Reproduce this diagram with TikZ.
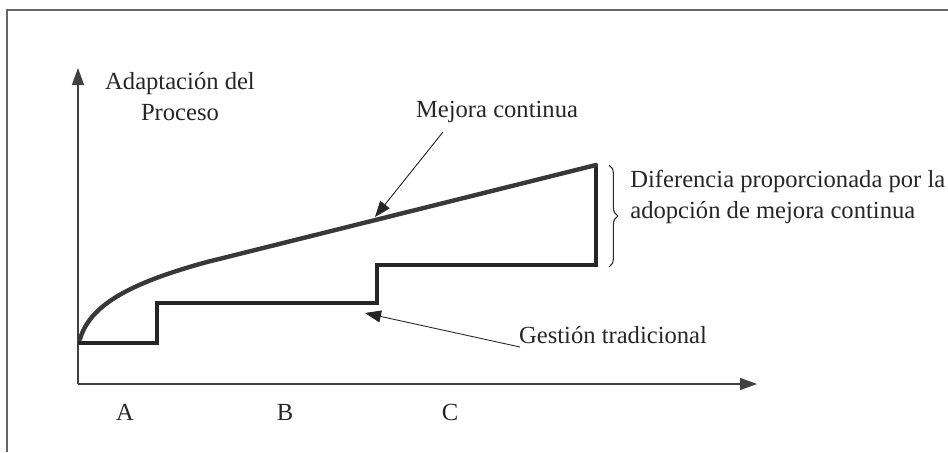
\documentclass[tikz,border=0pt]{standalone}
\usepackage{fontspec}
\setmainfont{Liberation Serif}
\usetikzlibrary{arrows.meta,decorations.pathreplacing}
\tikzset{
  eje/.style={line width=0.8pt, draw=black!75, -{Triangle[length=3.4mm,width=2.4mm]}},
  flecha/.style={line width=0.5pt, draw=black!85, -{Triangle[length=3.2mm,width=2.4mm]}},
  texto/.style={font=\fontsize{14}{17.6}\selectfont, text=black!85, inner sep=0pt},
  escalon/.style={line width=2.8pt, draw=black!85, line join=miter},
  mejora/.style={line width=2.5pt, draw=black!78, line cap=round, line join=round},
}
\begin{document}
\begin{tikzpicture}[x=0.2mm,y=-0.2mm]
\useasboundingbox (0,0) rectangle (948,452);
% marco
\draw[black!60, line width=0.8pt] (7,452) -- (7,10) -- (948,10);
% ejes
\coordinate (o) at (78,384);
\coordinate (ytop) at (78,68);
\coordinate (xend) at (757,384);
\draw[eje] (o) -- (ytop);
\draw[eje] (o) -- (xend);
\node[texto, align=center] (adapt) at (180,97) {Adaptación del\\Proceso};
\node[texto] (a) at (125,412) {A};
\node[texto] (b) at (285,412) {B};
\node[texto] (c) at (450,412) {C};
% gestion tradicional
\draw[escalon] (78,343) -- (157,343) -- (157,303) -- (377,303) -- (377,265) -- (596,265) -- (596,165);
% mejora continua
\draw[mejora] (80,339) .. controls (90,305) and (130,283) .. (207,262) -- (596,165);
% etiquetas
\node[texto] (mej) at (497,112) {Mejora continua};
\coordinate (mejini) at (443,132);
\coordinate (mejfin) at (375,217);
\draw[flecha] (mejini) -- (mejfin);
\node[texto] (gest) at (613,335) {Gestión tradicional};
\coordinate (gestini) at (520,347);
\coordinate (gestfin) at (365,313);
\draw[flecha] (gestini) -- (gestfin);
% diferencia
\coordinate (llsup) at (609,165);
\coordinate (llinf) at (609,267);
\draw[black!85, line width=0.6pt, decorate, decoration={brace, amplitude=5pt}] (llsup) -- (llinf);
\node[texto, align=left, anchor=west] (dif) at (630,197) {Diferencia proporcionada por la\\adopción de mejora continua};
\end{tikzpicture}
\end{document}
